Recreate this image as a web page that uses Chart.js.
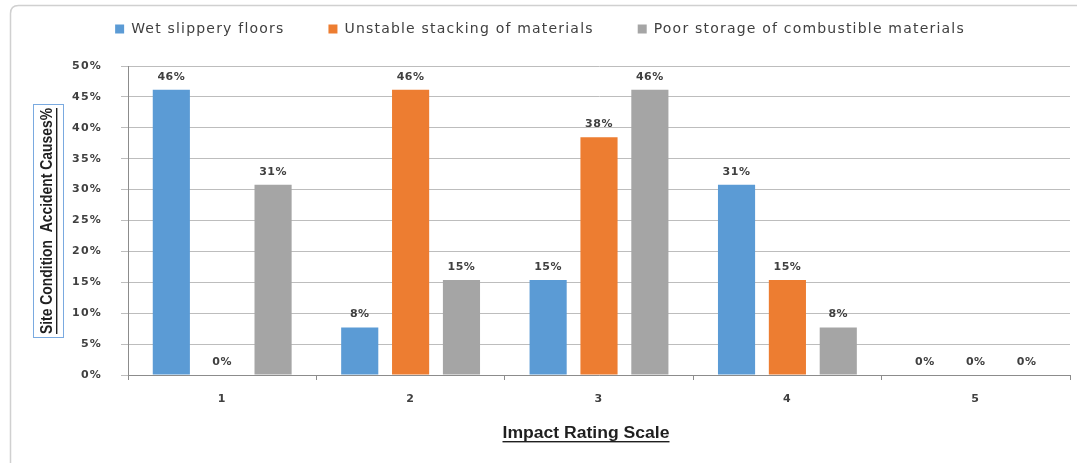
<!DOCTYPE html>
<html>
<head>
<meta charset="utf-8">
<script src="https://cdn.jsdelivr.net/npm/chart.js@4"></script>
<style>
  html, body { margin: 0; padding: 0; background: #ffffff; }
  #wrap { width: 1077px; height: 463px; position: relative; }
</style>
</head>
<body>
<div id="wrap"><canvas id="c" width="1077" height="463"></canvas></div>
<script>
// ---- data ----
const categories = ['1', '2', '3', '4', '5'];
const seriesNames = ['Wet slippery floors', 'Unstable stacking of materials', 'Poor storage of combustible materials'];
const wetSlipperyFloors = [46.15, 7.69, 15.38, 30.77, 0];
const unstableStacking = [0, 46.15, 38.46, 15.38, 0];
const poorStorage = [30.77, 15.38, 46.15, 7.69, 0];
const yTicks = [0, 5, 10, 15, 20, 25, 30, 35, 40, 45, 50];
const yTitle = 'Site Condition  Accident Causes%';
const xTitle = 'Impact Rating Scale';

const colors = ['#5B9BD5', '#ED7D31', '#A5A5A5'];
const labelFont = 'bold 11px "DejaVu Sans", Verdana, sans-serif';

const spacing = {
  id: 'spacing',
  beforeInit(chart) {
    const lg = chart.legend;
    if (lg) {
      const orig = lg.fit;
      lg.fit = function () { orig.call(this); this.height += 20; };
    }
  },
  beforeLayout(chart) { chart.ctx.letterSpacing = '1.2px'; },
  beforeDraw(chart) { chart.ctx.letterSpacing = '1.2px'; }
};

const frame = {
  id: 'frame',
  beforeDraw(chart) {
    const ctx = chart.ctx;
    ctx.save();
    ctx.strokeStyle = '#d0d0d0';
    ctx.lineWidth = 1.5;
    const x = 10.5, y = 5.5, w = 1080, h = 470, r = 8;
    ctx.beginPath();
    ctx.moveTo(x + r, y);
    ctx.lineTo(x + w, y);
    ctx.moveTo(x, y + r);
    ctx.lineTo(x, y + h);
    ctx.moveTo(x, y + r);
    ctx.quadraticCurveTo(x, y, x + r, y);
    ctx.stroke();
    ctx.restore();
  }
};

const valueLabels = {
  id: 'valueLabels',
  afterDatasetsDraw(chart) {
    const ctx = chart.ctx;
    ctx.save();
    ctx.letterSpacing = '0.5px';
    ctx.font = labelFont;
    ctx.fillStyle = '#404040';
    ctx.textAlign = 'center';
    ctx.textBaseline = 'alphabetic';
    chart.data.datasets.forEach((ds, i) => {
      const meta = chart.getDatasetMeta(i);
      meta.data.forEach((bar, j) => {
        const v = ds.data[j];
        ctx.fillText(Math.round(v) + '%', bar.x, bar.y - 10);
      });
    });
    ctx.restore();
  }
};

const axisTitles = {
  id: 'axisTitles',
  afterDraw(chart) {
    const ctx = chart.ctx;
    ctx.save();
    ctx.letterSpacing = '0px';
    ctx.fillStyle = '#1f1f1f';
    ctx.textAlign = 'center';
    // x title
    ctx.font = 'bold 16px "Liberation Sans", Arial, sans-serif';
    ctx.textBaseline = 'alphabetic';
    const xw = ctx.measureText(xTitle).width;
    const xs = 167 / xw;
    ctx.save();
    ctx.translate(586, 438);
    ctx.scale(xs, 1);
    ctx.fillText(xTitle, 0, 0);
    ctx.fillRect(-xw / 2, 3, xw, 1.4);
    ctx.restore();
    // y title
    ctx.save();
    ctx.translate(48, 221);
    ctx.rotate(-Math.PI / 2);
    ctx.font = 'bold 16px "Liberation Sans", Arial, sans-serif';
    ctx.textBaseline = 'middle';
    const yw = ctx.measureText(yTitle).width;
    const ys = 226 / yw;
    ctx.save();
    ctx.scale(ys, 1);
    ctx.fillText(yTitle, 0, 0);
    ctx.restore();
    ctx.fillRect(-113, 8, 226, 1.4);
    ctx.strokeStyle = '#7aaae0';
    ctx.lineWidth = 1;
    ctx.strokeRect(-116.5, -14.5, 233, 30);
    ctx.restore();
    ctx.restore();
  }
};

new Chart(document.getElementById('c'), {
  type: 'bar',
  data: {
    labels: categories,
    datasets: [
      { label: seriesNames[0], data: wetSlipperyFloors, backgroundColor: colors[0] },
      { label: seriesNames[1], data: unstableStacking, backgroundColor: colors[1] },
      { label: seriesNames[2], data: poorStorage, backgroundColor: colors[2] }
    ]
  },
  options: {
    responsive: false,
    animation: false,
    devicePixelRatio: 1,
    categoryPercentage: 0.81,
    barPercentage: 0.73,
    layout: { padding: { left: 10, right: 7, top: -22, bottom: 0 } },
    plugins: {
      legend: {
        position: 'top',
        labels: {
          boxWidth: 9,
          boxHeight: 9,
          padding: 44,
          color: '#404040',
          font: { family: '"DejaVu Sans", Verdana, sans-serif', size: 14 }
        }
      },
      tooltip: { enabled: false }
    },
    scales: {
      x: {
        grid: { offset: true, drawOnChartArea: false, drawTicks: true, tickLength: 5, color: '#8c8c8c' },
        border: { color: '#8c8c8c' },
        ticks: { color: '#404040', font: { family: '"DejaVu Sans", Verdana, sans-serif', size: 11, weight: 'bold' }, padding: 13 },
        afterFit(s) { s.height = 88; }
      },
      y: {
        min: 0, max: 50,
        afterBuildTicks(s) { s.ticks = yTicks.map(v => ({ value: v })); },
        grid: { color: '#bdbdbd', tickLength: 7, drawTicks: true },
        border: { color: '#8c8c8c' },
        ticks: {
          color: '#404040',
          font: { family: '"DejaVu Sans", Verdana, sans-serif', size: 11, weight: 'bold' },
          padding: 19,
          callback: v => v + '%'
        },
        afterFit(s) { s.width = 118; }
      }
    }
  },
  plugins: [spacing, frame, valueLabels, axisTitles]
});
</script>
</body>
</html>
